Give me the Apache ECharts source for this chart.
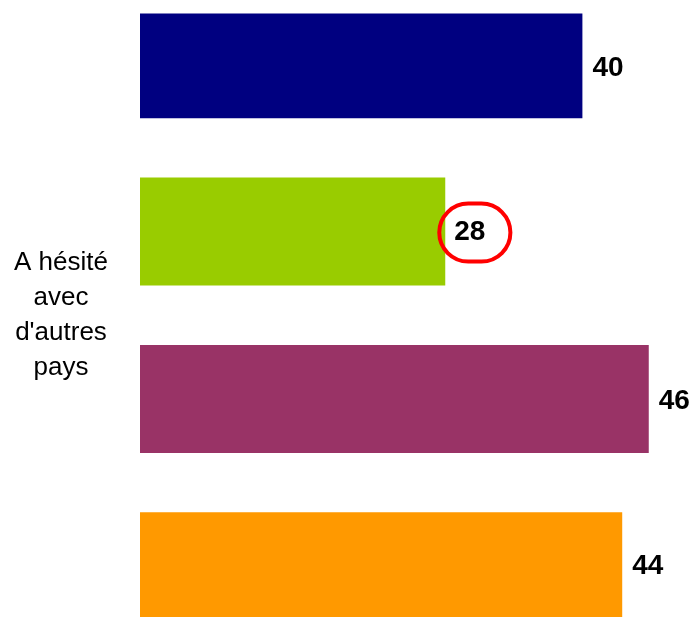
<!DOCTYPE html>
<html>
<head>
<meta charset="utf-8">
<script src="https://cdn.jsdelivr.net/npm/echarts@6/dist/echarts.min.js"></script>
<style>
    html, body { margin: 0; padding: 0; background: #fff; }
    #chart { width: 693px; height: 617px; }
</style>
</head>
<body>
<div id="chart"></div>
<script>
// Data
const categories = ["A hésité\navec\nd'autres\npays"];
const seriesNames = ['Série 1', 'Série 2', 'Série 3', 'Série 4'];
const seriesValues = [40, 27.6, 46, 43.6];
const seriesColors = ['#000080', '#99CC00', '#993366', '#FF9900'];
const highlightIndex = 1; // the circled value

document.addEventListener('DOMContentLoaded', function() {
    const chart = echarts.init(document.getElementById('chart'));

    const series = seriesValues.map((v, i) => {
        const label = {
            show: true,
            position: 'right',
            distance: 10,
            offset: [0, 2],
            color: '#000',
            fontFamily: 'Liberation Sans',
            fontWeight: 'bold',
            fontSize: 28,
            formatter: p => Math.round(p.value)
        };
        if (i === highlightIndex) {
            Object.assign(label, {
                distance: -6,
                offset: [0, 1],
                borderColor: '#FF0000',
                borderWidth: 4,
                borderRadius: 30,
                padding: [15, 25, 15, 15]
            });
        }
        return {
            name: seriesNames[i],
            type: 'bar',
            data: [v],
            barWidth: 108,
            barGap: '55%',
            itemStyle: { color: seriesColors[i] },
            label: label,
            silent: true,
            animation: false
        };
    });

    chart.setOption({
        animation: false,
        grid: { left: 140, right: 0, top: 13.5, height: 610 },
        xAxis: {
            type: 'value',
            min: 0,
            max: 50,
            show: false
        },
        yAxis: {
            type: 'category',
            data: categories,
            inverse: true,
            axisLine: { show: false },
            axisTick: { show: false },
            axisLabel: {
                margin: 79,
                align: 'center',
                color: '#000',
                fontFamily: 'Liberation Sans',
                fontSize: 26,
                lineHeight: 35
            }
        },
        series: series
    });
});
</script>
</body>
</html>
